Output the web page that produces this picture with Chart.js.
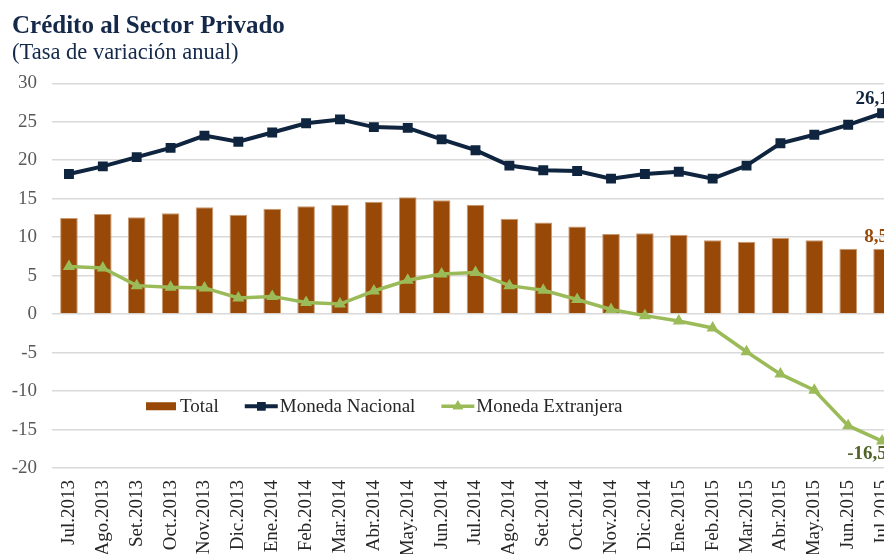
<!DOCTYPE html>
<html>
<head>
<meta charset="utf-8">
<script src="https://cdn.jsdelivr.net/npm/chart.js@4.4.1/dist/chart.umd.min.js"></script>
<style>
  html, body { margin: 0; padding: 0; background: #fff; }
  #wrap { width: 884px; height: 554px; overflow: hidden; position: relative; }
  canvas { display: block; }
</style>
</head>
<body>
<div id="wrap"><canvas id="chartCredito" width="906" height="580"></canvas></div>
<script>
const meses = ['Jul.2013', 'Ago.2013', 'Set.2013', 'Oct.2013', 'Nov.2013', 'Dic.2013',
    'Ene.2014', 'Feb.2014', 'Mar.2014', 'Abr.2014', 'May.2014', 'Jun.2014', 'Jul.2014',
    'Ago.2014', 'Set.2014', 'Oct.2014', 'Nov.2014', 'Dic.2014', 'Ene.2015', 'Feb.2015',
    'Mar.2015', 'Abr.2015', 'May.2015', 'Jun.2015', 'Jul.2015'];
const total = [12.5, 13.0, 12.6, 13.1, 13.9, 12.9, 13.7, 14.0, 14.2, 14.6, 15.2, 14.8, 14.2,
    12.4, 11.9, 11.4, 10.4, 10.5, 10.3, 9.6, 9.4, 9.9, 9.6, 8.5, 8.5];
const monedaNacional = [18.2, 19.2, 20.4, 21.6, 23.2, 22.4, 23.6, 24.8, 25.3, 24.3, 24.2, 22.7, 21.3,
    19.3, 18.7, 18.6, 17.6, 18.2, 18.5, 17.6, 19.3, 22.2, 23.3, 24.6, 26.1];
const monedaExtranjera = [6.2, 6.0, 3.7, 3.5, 3.4, 2.1, 2.3, 1.5, 1.3, 3.0, 4.4, 5.2, 5.4,
    3.7, 3.1, 1.9, 0.6, -0.2, -0.9, -1.8, -4.9, -7.8, -9.9, -14.5, -16.5];
const yTicks = { min: -20, max: 30, step: 5 };

const ctxCredito = document.getElementById('chartCredito');
const serif = '"Liberation Serif", "Times New Roman", serif';

// leyenda dentro del area del grafico
const leyendaPlugin = {
    id: 'leyendaInterna',
    afterDatasetsDraw(chart) {
        const ctx = chart.ctx;
        const area = chart.chartArea;
        let x = area.left + 94;
        const y = area.top + 323;
        ctx.save();
        ctx.font = '19px ' + serif;
        ctx.textBaseline = 'middle';
        chart.data.datasets.forEach(ds => {
            if (ds.type === 'bar') {
                ctx.fillStyle = ds.backgroundColor;
                ctx.fillRect(x, y - 4, 30, 8);
                x += 34;
            } else {
                ctx.strokeStyle = ds.borderColor;
                ctx.lineWidth = ds.borderWidth;
                ctx.beginPath();
                ctx.moveTo(x, y);
                ctx.lineTo(x + 33, y);
                ctx.stroke();
                ctx.fillStyle = ds.borderColor;
                Chart.helpers.drawPoint(ctx, {
                    pointStyle: ds.pointStyle, radius: ds.pointRadius - 1, rotation: 0, borderWidth: 0
                }, x + 16.5, y);
                ctx.fill();
                x += 35;
            }
            ctx.fillStyle = '#262626';
            ctx.fillText(ds.label, x, y + 1);
            x += ctx.measureText(ds.label).width + 26;
        });
        ctx.restore();
    }
};

// etiqueta del ultimo dato
const etiquetaPlugin = {
    id: 'ultimoDato',
    afterDatasetsDraw(chart) {
        const ctx = chart.ctx;
        const estilos = [
            { color: '#984807', dx: -6, dy: -12 },
            { color: '#0f243e', dx: -10, dy: -14 },
            { color: '#4f6228', dx: -15, dy: 13 }
        ];
        ctx.save();
        ctx.font = 'bold 19px ' + serif;
        ctx.textAlign = 'center';
        ctx.textBaseline = 'middle';
        chart.data.datasets.forEach((ds, i) => {
            const meta = chart.getDatasetMeta(i);
            const last = meta.data[meta.data.length - 1];
            const v = ds.data[ds.data.length - 1];
            ctx.fillStyle = estilos[i].color;
            ctx.fillText(v.toFixed(1).replace('.', ','), last.x + estilos[i].dx, last.y + estilos[i].dy);
        });
        ctx.restore();
    }
};

new Chart(ctxCredito, {
    data: {
        labels: meses,
        datasets: [{
            type: 'bar',
            label: 'Total',
            data: total,
            backgroundColor: '#984807',
            borderColor: '#c99a72',
            borderWidth: 1,
            barPercentage: 0.52,
            categoryPercentage: 1,
            order: 3
        }, {
            type: 'line',
            label: 'Moneda Nacional',
            data: monedaNacional,
            borderColor: '#0f243e',
            backgroundColor: '#0f243e',
            borderWidth: 4,
            pointStyle: 'rect',
            pointRadius: 7,
            pointBorderWidth: 0,
            tension: 0,
            order: 1
        }, {
            type: 'line',
            label: 'Moneda Extranjera',
            data: monedaExtranjera,
            borderColor: '#9bbb59',
            backgroundColor: '#9bbb59',
            borderWidth: 3.5,
            pointStyle: 'triangle',
            pointRadius: 7,
            pointBorderWidth: 0,
            tension: 0,
            order: 2
        }]
    },
    options: {
        responsive: false,
        animation: false,
        layout: {
            padding: { left: 12, right: 2, top: 0, bottom: 0 }
        },
        plugins: {
            legend: { display: false },
            tooltip: { enabled: false },
            title: {
                display: true,
                text: 'Crédito al Sector Privado',
                align: 'start',
                color: '#14284a',
                font: { family: serif, size: 25, weight: 'bold', lineHeight: 1.1 },
                padding: { top: 13, bottom: 0 }
            },
            subtitle: {
                display: true,
                text: '(Tasa de variación anual)',
                align: 'start',
                color: '#14284a',
                font: { family: serif, size: 22.5, lineHeight: 1.1 },
                padding: { top: 0, bottom: 18 }
            }
        },
        scales: {
            x: {
                grid: { display: false, drawTicks: false },
                border: { display: false },
                ticks: {
                    autoSkip: false,
                    minRotation: 90,
                    maxRotation: 90,
                    padding: 12,
                    color: '#262626',
                    font: { family: serif, size: 19 }
                },
                afterFit: function (scale) {
                    scale.height = 112;
                    scale.paddingLeft = 0;
                    scale.paddingRight = 0;
                }
            },
            y: {
                min: yTicks.min,
                max: yTicks.max,
                border: { display: false },
                grid: {
                    color: '#d9d9d9',
                    lineWidth: 1.5,
                    drawTicks: false
                },
                ticks: {
                    stepSize: yTicks.step,
                    padding: 15,
                    color: '#595959',
                    font: { family: serif, size: 19 }
                },
                afterFit: function (scale) {
                    scale.width = 40;
                }
            }
        }
    },
    plugins: [leyendaPlugin, etiquetaPlugin]
});
</script>
</body>
</html>
